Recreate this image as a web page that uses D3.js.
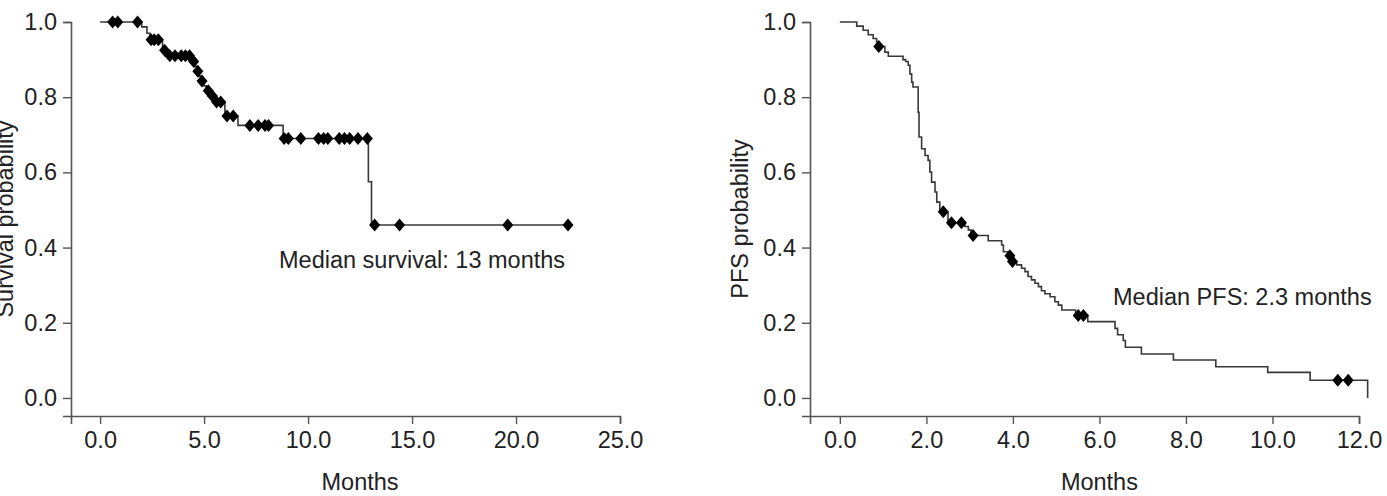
<!DOCTYPE html>
<html>
<head>
<meta charset="utf-8">
<script src="https://cdn.jsdelivr.net/npm/d3@7"></script>
<style>
  body { margin: 0; background: #fff; }
  svg text { font-family: "Liberation Sans", Arial, sans-serif; fill: #222; }
</style>
</head>
<body>
<svg id="chart" width="1387" height="496"></svg>
<script>
// overall survival (months, survival after each drop)
var osTimes = [2.0, 2.25, 2.4, 3.0, 3.15, 4.45, 4.55, 4.65, 4.75, 4.85, 5.0, 5.1, 5.3, 5.5, 6.0, 6.63, 8.8, 12.9, 13.05];
var osSurv = [0.987, 0.97, 0.953, 0.925, 0.91, 0.895, 0.882, 0.869, 0.856, 0.843, 0.83, 0.817, 0.803, 0.787, 0.75, 0.725, 0.69, 0.575, 0.46];
var osCensored = [0.6, 0.85, 1.8, 2.45, 2.6, 2.8, 3.1, 3.35, 3.6, 3.9, 4.1, 4.3, 4.5, 4.7, 4.9, 5.2, 5.4, 5.6, 5.8,
  6.1, 6.4, 7.2, 7.6, 7.93, 8.1, 8.85, 9.05, 9.65, 10.5, 10.75, 10.95, 11.5, 11.75, 12.0, 12.4, 12.85, 13.2, 14.4, 19.6, 22.5];
var osEnd = 22.5;

// progression-free survival
var pfsTimes = [0.39, 0.54, 0.655, 0.77, 0.85, 0.88, 1.04, 1.12, 1.46, 1.52, 1.58, 1.62, 1.66, 1.69, 1.81, 1.83, 1.89, 1.97,
  2.04, 2.08, 2.12, 2.2, 2.24, 2.31, 2.5, 2.89, 2.97, 3.03, 3.43, 3.74, 3.78, 3.9, 3.96, 4.09, 4.2, 4.28, 4.35, 4.43, 4.51,
  4.59, 4.66, 4.74, 4.86, 4.97, 5.05, 5.13, 5.45, 5.73, 6.36, 6.42, 6.55, 6.6, 6.97, 7.71, 8.69, 9.89, 10.87, 12.2];
var pfsSurv = [0.989, 0.978, 0.966, 0.956, 0.947, 0.935, 0.92, 0.909, 0.9, 0.895, 0.885, 0.862, 0.84, 0.827, 0.76, 0.694, 0.663, 0.645,
  0.632, 0.601, 0.574, 0.548, 0.521, 0.495, 0.466, 0.456, 0.447, 0.432, 0.418, 0.407, 0.389, 0.378, 0.363, 0.354, 0.345, 0.336, 0.323, 0.314, 0.305,
  0.296, 0.285, 0.277, 0.269, 0.256, 0.247, 0.234, 0.219, 0.203, 0.185, 0.168, 0.153, 0.135, 0.117, 0.101, 0.083, 0.068, 0.047, 0];
var pfsCensored = [0.9, 2.39, 2.58, 2.81, 3.08, 3.93, 3.99, 5.51, 5.63, 11.51, 11.75];
var pfsEnd = 12.2;

var yTicks = [0, 0.2, 0.4, 0.6, 0.8, 1.0];
var osXTicks = [0, 5, 10, 15, 20, 25];
var pfsXTicks = [0, 2, 4, 6, 8, 10, 12];

var svg = d3.select("#chart");
var fontSize = "23.5px";

// wide diamond for censor marks
var diamond = {
  draw: function (ctx, size) {
    var w = 5.5, h = 6.5;
    ctx.moveTo(0, -h);
    ctx.lineTo(w, 0);
    ctx.lineTo(0, h);
    ctx.lineTo(-w, 0);
    ctx.closePath();
  }
};

function drawPanel(opt) {
  var x = d3.scaleLinear().domain(opt.xDomain).range(opt.xRange);
  var y = d3.scaleLinear().domain([-0.048, 1]).range([416, 22]);
  var g = svg.append("g");

  var xAxis = g.append("g")
    .attr("transform", "translate(0,416)")
    .call(d3.axisBottom(x).tickValues(opt.xTicks).tickFormat(d3.format(".1f")).tickSizeOuter(0).tickSize(8).tickPadding(7));
  var yAxis = g.append("g")
    .attr("transform", "translate(" + opt.xRange[0] + ",0)")
    .call(d3.axisLeft(y).tickValues(yTicks).tickFormat(d3.format(".1f")).tickSizeOuter(0).tickSize(8).tickPadding(6));

  [xAxis, yAxis].forEach(function (a) {
    a.select(".domain").attr("stroke", "#555").attr("stroke-width", 1.6);
    a.selectAll(".tick line").attr("stroke", "#555").attr("stroke-width", 1.4);
    a.selectAll(".tick text").style("font-size", fontSize).attr("fill", "#222");
  });

  // step curve
  var pts = [[0, 1]];
  opt.times.forEach(function (t, i) { pts.push([t, opt.surv[i]]); });
  pts.push([opt.end, opt.surv[opt.surv.length - 1]]);

  var line = d3.line()
    .x(function (d) { return x(d[0]); })
    .y(function (d) { return y(d[1]); })
    .curve(d3.curveStepAfter);

  g.append("path")
    .datum(pts)
    .attr("d", line)
    .attr("fill", "none")
    .attr("stroke", "#383838")
    .attr("stroke-width", 1.6);

  // survival at time t
  function survAt(t) {
    var s = 1;
    opt.times.forEach(function (tt, i) { if (tt <= t) s = opt.surv[i]; });
    return s;
  }

  g.append("g")
    .selectAll("path")
    .data(opt.censored)
    .enter()
    .append("path")
    .attr("d", d3.symbol().type(diamond))
    .attr("fill", "#000")
    .attr("transform", function (t) {
      return "translate(" + x(t) + "," + y(survAt(t)) + ")";
    });

  g.append("text")
    .attr("x", (x(opt.xTicks[0]) + x(opt.xTicks[opt.xTicks.length - 1])) / 2)
    .attr("y", 490)
    .attr("text-anchor", "middle")
    .style("font-size", fontSize)
    .text("Months");

  g.append("text")
    .attr("transform", "translate(" + opt.yLabelX + "," + (22 + 416) / 2 + ") rotate(-90)")
    .attr("text-anchor", "middle")
    .style("font-size", fontSize)
    .text(opt.yLabel);

  g.append("text")
    .attr("x", opt.noteX)
    .attr("y", opt.noteY)
    .style("font-size", fontSize)
    .text(opt.note);
}

drawPanel({
  xDomain: [-1.4, 25], xRange: [71, 620], xTicks: osXTicks,
  times: osTimes, surv: osSurv, censored: osCensored, end: osEnd,
  yLabel: "Survival probability", yLabelX: 13,
  note: "Median survival: 13 months", noteX: 279, noteY: 268
});

drawPanel({
  xDomain: [-0.69, 12], xRange: [810, 1359], xTicks: pfsXTicks,
  times: pfsTimes, surv: pfsSurv, censored: pfsCensored, end: pfsEnd,
  yLabel: "PFS probability", yLabelX: 748,
  note: "Median PFS: 2.3 months", noteX: 1113, noteY: 305
});
</script>
</body>
</html>
